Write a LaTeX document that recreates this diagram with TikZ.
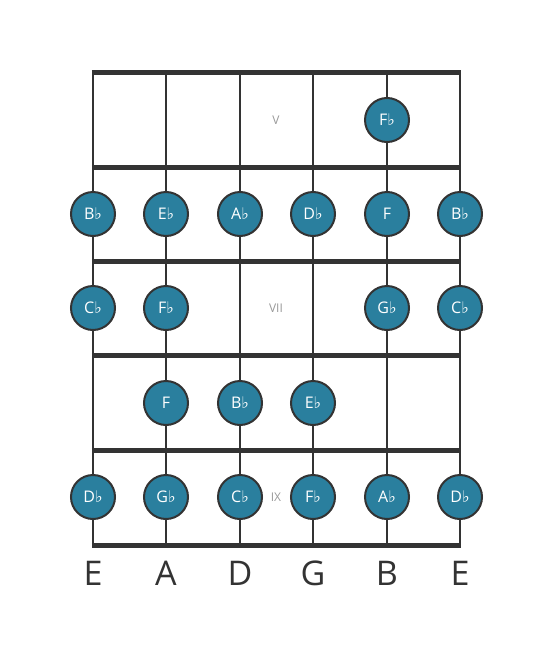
\documentclass[tikz,border=0pt]{standalone}
\usepackage{fontspec}
\setmainfont{Open Sans}
\newfontfamily\flatfont{DejaVu Sans}
\definecolor{teal1}{HTML}{2A7F9E}
\definecolor{ink}{HTML}{333333}
\definecolor{fretlbl}{HTML}{999999}
\newcommand{\fl}{{\flatfont\char"266D}}
\tikzset{
  note/.style={circle,draw=ink,line width=2pt,fill=teal1,minimum size=44pt,inner sep=0pt,text=white,font=\fontsize{16}{16}\selectfont},
  fretline/.style={line width=5pt,draw=ink},
  stringline/.style={line width=2.5pt,draw=ink},
  fretnum/.style={text=fretlbl,font=\fontsize{12}{12}\selectfont},
  strname/.style={text=ink,font=\fontsize{34}{34}\selectfont}
}
\begin{document}
\begin{tikzpicture}[x=1pt,y=-1pt]
\useasboundingbox (0,0) rectangle (553,656);
% strings
\foreach \x [count=\i] in {93,166,240,313,387,460}{
  \coordinate (st\i) at (\x,72);
  \coordinate (sb\i) at (\x,545);
  \draw[stringline] (st\i) -- (sb\i);
}
% frets
\foreach \y [count=\j] in {72,167,261,355,450,545}{
  \coordinate (fl\j) at (91.75,\y);
  \coordinate (fr\j) at (461.25,\y);
  \draw[fretline,line cap=butt] (fl\j) -- (fr\j);
}
% fret numbers
\node[fretnum] (fV) at (276,120) {V};
\node[fretnum] (fVII) at (276,308) {VII};
\node[fretnum] (fIX) at (276,497) {IX};
% notes
\node[note] (n1) at (387,120) {F\fl};
\node[note] (n2a) at (93,214) {B\fl};
\node[note] (n2b) at (166,214) {E\fl};
\node[note] (n2c) at (240,214) {A\fl};
\node[note] (n2d) at (313,214) {D\fl};
\node[note] (n2e) at (387,214) {F};
\node[note] (n2f) at (460,214) {B\fl};
\node[note] (n3a) at (93,308) {C\fl};
\node[note] (n3b) at (166,308) {F\fl};
\node[note] (n3e) at (387,308) {G\fl};
\node[note] (n3f) at (460,308) {C\fl};
\node[note] (n4b) at (166,403) {F};
\node[note] (n4c) at (240,403) {B\fl};
\node[note] (n4d) at (313,403) {E\fl};
\node[note] (n5a) at (93,497) {D\fl};
\node[note] (n5b) at (166,497) {G\fl};
\node[note] (n5c) at (240,497) {C\fl};
\node[note] (n5d) at (313,497) {F\fl};
\node[note] (n5e) at (387,497) {A\fl};
\node[note] (n5f) at (460,497) {D\fl};
% string names
\foreach \x/\n [count=\i] in {93/E,166/A,240/D,313/G,387/B,460/E}{
  \node[strname] (sn\i) at (\x,573) {\n};
}
\end{tikzpicture}
\end{document}
